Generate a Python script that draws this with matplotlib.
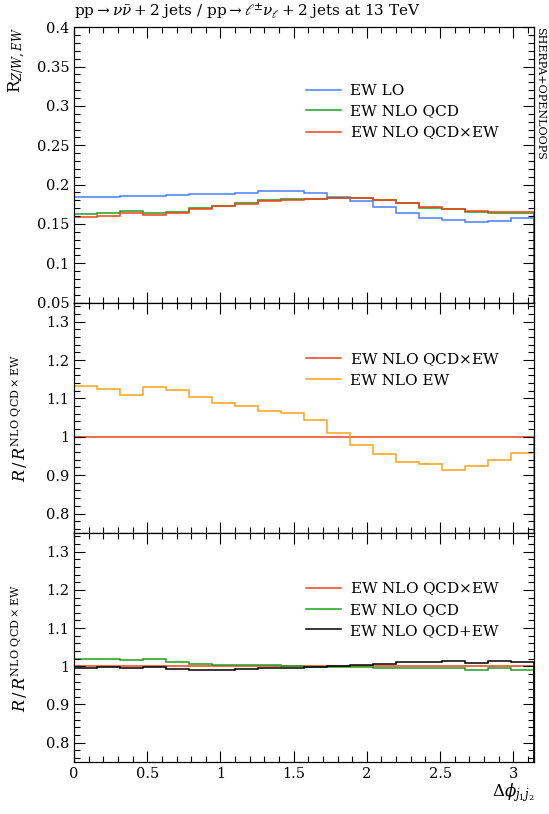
import matplotlib
matplotlib.use("Agg")
import matplotlib.pyplot as plt
import numpy as np
from matplotlib.ticker import MultipleLocator

plt.rcParams['font.family'] = ['DejaVu Serif']
plt.rcParams['mathtext.fontset'] = 'dejavuserif'

# 20 bins in delta phi from 0 to pi
edges = np.linspace(0, np.pi, 21)

ew_lo = [0.1843, 0.1843, 0.1852, 0.1860, 0.1869, 0.1877, 0.1886, 0.1898, 0.1915, 0.1924,
         0.1894, 0.1848, 0.1792, 0.1716, 0.1644, 0.1576, 0.1547, 0.1526, 0.1538, 0.1572]
ew_nlo_qcd = [0.1627, 0.1640, 0.1665, 0.1644, 0.1657, 0.1699, 0.1729, 0.1763, 0.1801, 0.1814,
              0.1822, 0.1835, 0.1835, 0.1805, 0.1763, 0.1708, 0.1695, 0.1653, 0.1644, 0.1644]
ew_nlo_qcdxew = [0.1593, 0.1606, 0.1640, 0.1615, 0.1644, 0.1687, 0.1725, 0.1759, 0.1792, 0.1809,
                 0.1818, 0.1826, 0.1835, 0.1809, 0.1771, 0.1712, 0.1695, 0.1665, 0.1648, 0.1657]

# ratios to NLO QCDxEW
ratio_ref = [1.0] * 20
ratio_nlo_ew = [1.1313, 1.1235, 1.1096, 1.1304, 1.1226, 1.1043, 1.0878, 1.0809, 1.0670, 1.0617,
                1.0426, 1.0087, 0.9783, 0.9548, 0.9330, 0.9278, 0.9139, 0.9243, 0.9383, 0.9583]
ratio_nlo_qcd = [1.020, 1.020, 1.0165, 1.019, 1.012, 1.005, 1.0026, 1.0043, 1.0026, 1.000,
                 0.999, 0.997, 0.997, 0.995, 0.995, 0.9965, 0.9965, 0.990, 0.995, 0.990]
ratio_nlo_qcdpew = [0.9965, 0.997, 0.9965, 0.998, 0.994, 0.991, 0.990, 0.994, 0.9957, 0.995,
                    0.998, 1.000, 1.0043, 1.006, 1.012, 1.011, 1.014, 1.0096, 1.013, 1.0104]

c_blue = '#4a7dff'
c_green = '#1f9e1f'
c_red = '#f2421a'
c_orange = '#ffa31a'

fig = plt.figure(figsize=(5.49, 8.14), dpi=100)
left, width = 0.1348, 0.8379
ax1 = fig.add_axes([left, 0.6283, width, 0.9665 - 0.6283])
ax2 = fig.add_axes([left, 0.3456, width, 0.6283 - 0.3456])
ax3 = fig.add_axes([left, 0.0643, width, 0.3456 - 0.0643])

lw = 1.1
ax1.stairs(ew_lo, edges, color=c_blue, lw=lw, label='EW LO')
ax1.stairs(ew_nlo_qcd, edges, color=c_green, lw=lw, label='EW NLO QCD')
ax1.stairs(ew_nlo_qcdxew, edges, color=c_red, lw=lw, label=r'EW NLO QCD$\times$EW')

ax2.stairs(ratio_ref, edges, color=c_red, lw=lw, label=r'EW NLO QCD$\times$EW')
ax2.stairs(ratio_nlo_ew, edges, color=c_orange, lw=lw, label='EW NLO EW')

ax3.stairs(ratio_ref, edges, color=c_red, lw=lw, label=r'EW NLO QCD$\times$EW')
ax3.stairs(ratio_nlo_qcd, edges, color=c_green, lw=lw, label='EW NLO QCD')
ax3.stairs(ratio_nlo_qcdpew, edges, color='black', lw=lw, label='EW NLO QCD+EW')

ax1.set_ylim(0.05, 0.4)
ax1.yaxis.set_minor_locator(MultipleLocator(0.01))
ax1.set_yticks([0.05, 0.1, 0.15, 0.2, 0.25, 0.3, 0.35, 0.4])
ax1.set_yticklabels(['0.05', '0.1', '0.15', '0.2', '0.25', '0.3', '0.35', '0.4'])

for ax in (ax2, ax3):
    ax.set_ylim(0.75, 1.35)
    ax.set_yticks([0.8, 0.9, 1.0, 1.1, 1.2, 1.3])
    ax.set_yticklabels(['0.8', '0.9', '1', '1.1', '1.2', '1.3'])
    ax.yaxis.set_minor_locator(MultipleLocator(0.02))

legend_y = {ax1: 0.8165, ax2: 0.817, ax3: 0.817}
for ax in (ax1, ax2, ax3):
    ax.set_xlim(0, np.pi)
    ax.xaxis.set_major_locator(MultipleLocator(0.5))
    ax.xaxis.set_minor_locator(MultipleLocator(0.1))
    ax.tick_params(which='both', direction='in', top=True, right=True, labelsize=10.5)
    ax.tick_params(which='major', length=8, width=0.8)
    ax.tick_params(which='minor', length=4, width=0.8)
    for s in ax.spines.values():
        s.set_linewidth(0.9)
    ax.legend(loc='upper left', bbox_to_anchor=(0.49, legend_y[ax]),
              frameon=False, fontsize=11, handlelength=2.3, handletextpad=0.6,
              labelspacing=0.4, borderaxespad=0)

ax1.tick_params(labelbottom=False)
ax2.tick_params(labelbottom=False)
ax3.set_xticks([0, 0.5, 1, 1.5, 2, 2.5, 3])
ax3.set_xticklabels(['0', '0.5', '1', '1.5', '2', '2.5', '3'])

fig.text(0.032, 0.9665, r'R$_{Z/W,EW}$', rotation=90, ha='center', va='top', fontsize=12)
fig.text(0.036, 0.4870, r'$R\,/\,R^{\mathrm{NLO\ QCD}\times\mathrm{EW}}$', rotation=90,
         ha='center', va='center', fontsize=11.5)
fig.text(0.036, 0.2040, r'$R\,/\,R^{\mathrm{NLO\ QCD}\times\mathrm{EW}}$', rotation=90,
         ha='center', va='center', fontsize=11.5)
fig.text(0.9727, 0.012, r'$\Delta\phi_{j_1 j_2}$', ha='right', va='bottom', fontsize=12)

fig.text(0.1348, 0.9725, r'pp$\rightarrow\nu\bar{\nu}+2$ jets / pp$\rightarrow\ell^{\pm}\nu_{\ell}+2$ jets at 13 TeV',
         ha='left', va='bottom', fontsize=11)
fig.text(0.9845, 0.9665, 'SHERPA+OPENLOOPS', rotation=-90, ha='center', va='top', fontsize=8)

plt.savefig('out.png', dpi=100)
